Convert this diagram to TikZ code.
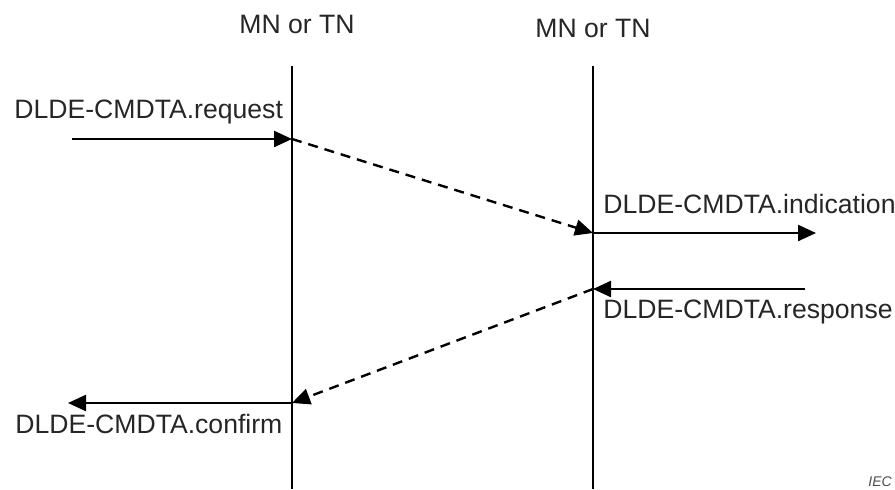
\documentclass[tikz,border=0pt]{standalone}
\usepackage{fontspec}
\setmainfont{Liberation Sans}
\usetikzlibrary{arrows.meta}

\tikzset{
    msg/.style={line width=1.2pt, -{Triangle[length=9pt, width=8pt]}},
    reply/.style={msg, dash pattern=on 5pt off 3.5pt},
    lbl/.style={anchor=base west, inner sep=0pt, font=\fontsize{13.3}{15}\selectfont, text=black!85},
}

\begin{document}
\begin{tikzpicture}[x=0.5pt, y=-0.5pt]
    \useasboundingbox (0,0) rectangle (895,489);
    % lifelines
    \coordinate (a top) at (292,66);  \coordinate (a bot) at (292,489);
    \coordinate (b top) at (593,66);  \coordinate (b bot) at (593,489);
    \draw[line width=1.2pt] (a top) -- (a bot);
    \draw[line width=1.2pt] (b top) -- (b bot);
    \node[lbl, anchor=base] (a name) at (297,33) {MN or TN};
    \node[lbl, anchor=base] (b name) at (593,37) {MN or TN};
    % primitives
    \coordinate (req) at (292,139);  \coordinate (req start) at (72,139);
    \coordinate (ind) at (593,233);  \coordinate (ind end) at (816,233);
    \coordinate (rsp) at (593,289);  \coordinate (rsp start) at (805,289);
    \coordinate (cnf) at (292,403);  \coordinate (cnf end) at (68,403);
    \draw[msg] (req start) -- (req);
    \draw[reply] (req) -- (ind);
    \draw[msg] (ind) -- (ind end);
    \draw[msg] (rsp start) -- (rsp);
    \draw[reply] (rsp) -- (cnf);
    \draw[msg] (cnf) -- (cnf end);
    \node[lbl] (req text) at (14,118) {DLDE-CMDTA.request};
    \node[lbl] (ind text) at (603,213) {DLDE-CMDTA.indication};
    \node[lbl] (rsp text) at (603,318) {DLDE-CMDTA.response};
    \node[lbl] (cnf text) at (15,433) {DLDE-CMDTA.confirm};
    \node[anchor=base west, inner sep=0pt, font=\fontsize{7}{8}\itshape\selectfont, text=black!70] (iec) at (868,486) {IEC};
\end{tikzpicture}
\end{document}
